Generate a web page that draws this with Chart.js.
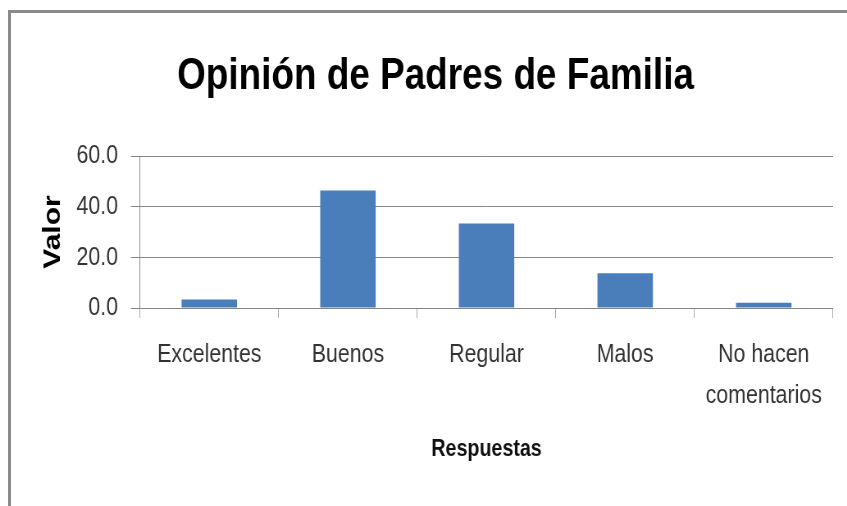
<!DOCTYPE html>
<html>
<head>
<meta charset="utf-8">
<script src="https://cdn.jsdelivr.net/npm/chart.js@4"></script>
<style>
  html, body { margin: 0; padding: 0; background: #fff; overflow: hidden; }
  #wrap { position: relative; width: 847px; height: 506px; overflow: hidden; }
  #chart { position: absolute; left: 0; top: 0; transform-origin: 0 0; }
  #frame {
    position: absolute; left: 8px; top: 10px; right: 0; bottom: 0;
    border-top: 3px solid #8a8a8a; border-left: 3px solid #8a8a8a;
    pointer-events: none;
  }
</style>
</head>
<body>
<div id="wrap">
  <canvas id="chart"></canvas>
  <div id="frame"></div>
</div>
<script>
/* ── data ── */
const categories = ['Excelentes', 'Buenos', 'Regular', 'Malos', ['No hacen', 'comentarios']];
const valores = [3.4, 46.4, 33.4, 13.7, 2.1];
const yTicks = [0, 20, 40, 60];

/* the original picture is squeezed sideways, so draw wider and squeeze back */
const K = 0.82;
const W = Math.round(847 / K), H = 506;
const canvas = document.getElementById('chart');
canvas.width = W; canvas.height = H;
canvas.style.width = W + 'px'; canvas.style.height = H + 'px';
canvas.style.transform = `scaleX(${K})`;

const SANS = "'Liberation Sans', Arial, sans-serif";
const GRID = '#868686';

new Chart(canvas, {
  type: 'bar',
  data: {
    labels: categories,
    datasets: [{
      label: 'Valor',
      data: valores,
      backgroundColor: '#4a7ebb',
      borderWidth: 0,
      barPercentage: 0.4,
      categoryPercentage: 1.0
    }]
  },
  options: {
    responsive: false,
    animation: false,
    devicePixelRatio: 1,
    layout: { padding: { left: 38 / K, right: 14 / K, top: 10, bottom: 0 } },
    plugins: {
      legend: { display: false },
      tooltip: { enabled: false },
      title: {
        display: true,
        text: 'Opinión de Padres de Familia',
        color: '#000',
        font: { family: SANS, size: 45, weight: 'bold', lineHeight: 1.2 },
        padding: { top: 40, bottom: 52 }
      }
    },
    scales: {
      x: {
        offset: true,
        grid: { display: true, drawOnChartArea: false, offset: true, tickLength: 10, color: '#a6a6a6' },
        border: { display: true, color: GRID },
        ticks: { color: '#333', padding: 17, maxRotation: 0, autoSkip: false,
                 font: { family: SANS, size: 26, lineHeight: 1.55 } },
        title: {
          display: true, text: 'Respuestas', color: '#111',
          font: { family: SANS, size: 24, weight: 'bold', lineHeight: 1.2 },
          padding: { top: 0, bottom: 42 }
        },
        afterFit: s => { s.height = H - 308; }
      },
      y: {
        min: 0, max: 60,
        afterBuildTicks: s => { s.ticks = yTicks.map(v => ({ value: v })); },
        grid: { color: GRID, tickLength: 9 / K, lineWidth: 1 },
        border: { display: true, color: GRID },
        ticks: { color: '#333', padding: 13 / K, callback: v => v.toFixed(1),
                 font: { family: SANS, size: 26 } },
        title: {
          display: true, text: 'Valor', color: '#000',
          font: { family: SANS, size: 30, weight: 'bold', lineHeight: 1.2 },
          padding: { top: 0, bottom: 0 }
        },
        afterFit: s => { s.width = (140 - 38) / K; }
      }
    }
  }
});
</script>
</body>
</html>
